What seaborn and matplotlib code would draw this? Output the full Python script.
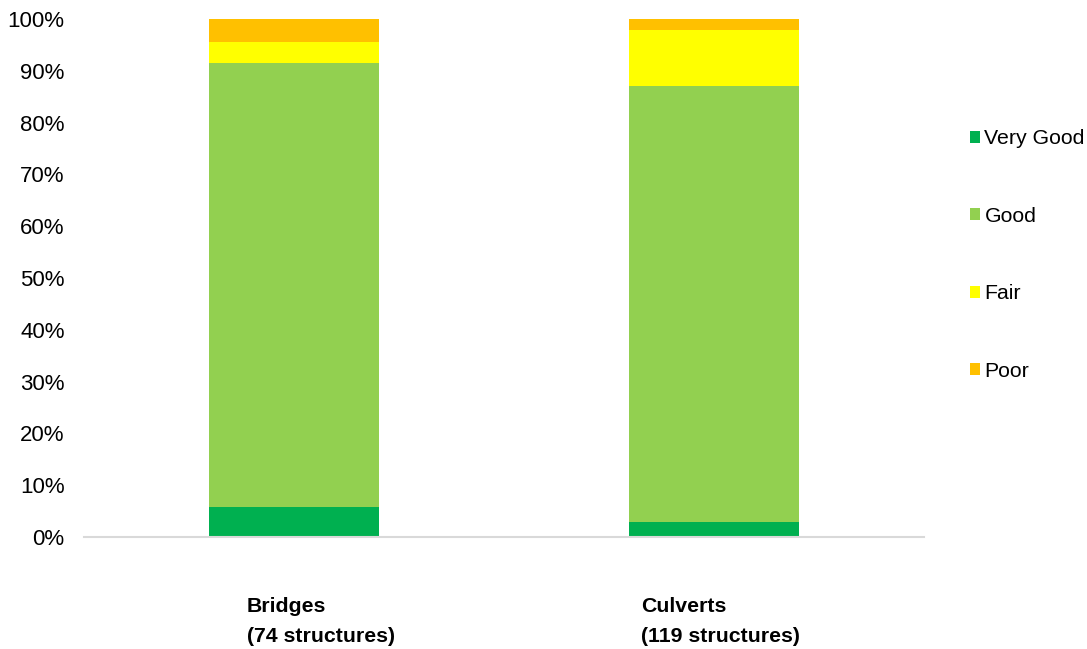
import numpy as np
import pandas as pd
import matplotlib
matplotlib.use("Agg")
import matplotlib.pyplot as plt
import seaborn as sns
from matplotlib.patches import Patch
from matplotlib.ticker import PercentFormatter

# condition shares (%)
structures = ["Bridges", "Culverts"]
counts = ["(74 structures)", "(119 structures)"]
conditions = ["Very Good", "Good", "Fair", "Poor"]
very_good = [5.8, 2.9]
good = [85.7, 84.2]
fair = [4.1, 10.8]
poor = [4.4, 2.1]
colors = ["#00B050", "#92D050", "#FFFF00", "#FFC000"]

sns.set_style("white")
plt.rcParams["font.family"] = ["Liberation Sans", "DejaVu Sans"]
plt.rcParams["text.color"] = "black"

df = pd.DataFrame({"structure": structures, "Very Good": very_good,
                   "Good": good, "Fair": fair, "Poor": poor})
cum = df[conditions].cumsum(axis=1)

fig = plt.figure(figsize=(10.87, 6.49), dpi=100)
ax = fig.add_axes([0.0773, 0.1726, 0.7727, 0.7981])

# draw tallest stack first so the lower segments sit on top
for cond, col in reversed(list(zip(conditions, colors))):
    sns.barplot(x=df["structure"], y=cum[cond], color=col, width=0.405,
                saturation=1, linewidth=0, ax=ax)

ax.set_ylim(0, 100)
ax.set_yticks(np.arange(0, 101, 10))
ax.yaxis.set_major_formatter(PercentFormatter(decimals=0))
ax.tick_params(axis="y", length=0, pad=14, labelsize=16, colors="black")
ax.set_xticks([])
ax.set_xlabel("")
ax.set_ylabel("")
for s in ["top", "right", "left"]:
    ax.spines[s].set_visible(False)
ax.spines["bottom"].set_color("#d9d9d9")
ax.spines["bottom"].set_linewidth(1.5)

# category labels, left aligned under each bar as in the original
label_x = [-0.112, 0.826]
for x, name, n in zip(label_x, structures, counts):
    ax.text(x, -0.115, name + "\n" + n, transform=ax.get_xaxis_transform(),
            ha="left", va="top", fontsize=15.3, fontweight="bold",
            linespacing=1.75, color="black")

handles = [Patch(facecolor=c, edgecolor="none", label=l)
           for l, c in zip(conditions, colors)]
fig.legend(handles=handles, loc="center left", bbox_to_anchor=(0.892, 0.607),
           frameon=False, fontsize=15.3, handlelength=0.5, handleheight=0.5,
           handletextpad=0.2, labelspacing=2.75, borderpad=0, borderaxespad=0,
           labelcolor="black")

fig.savefig("out.png", dpi=100)
